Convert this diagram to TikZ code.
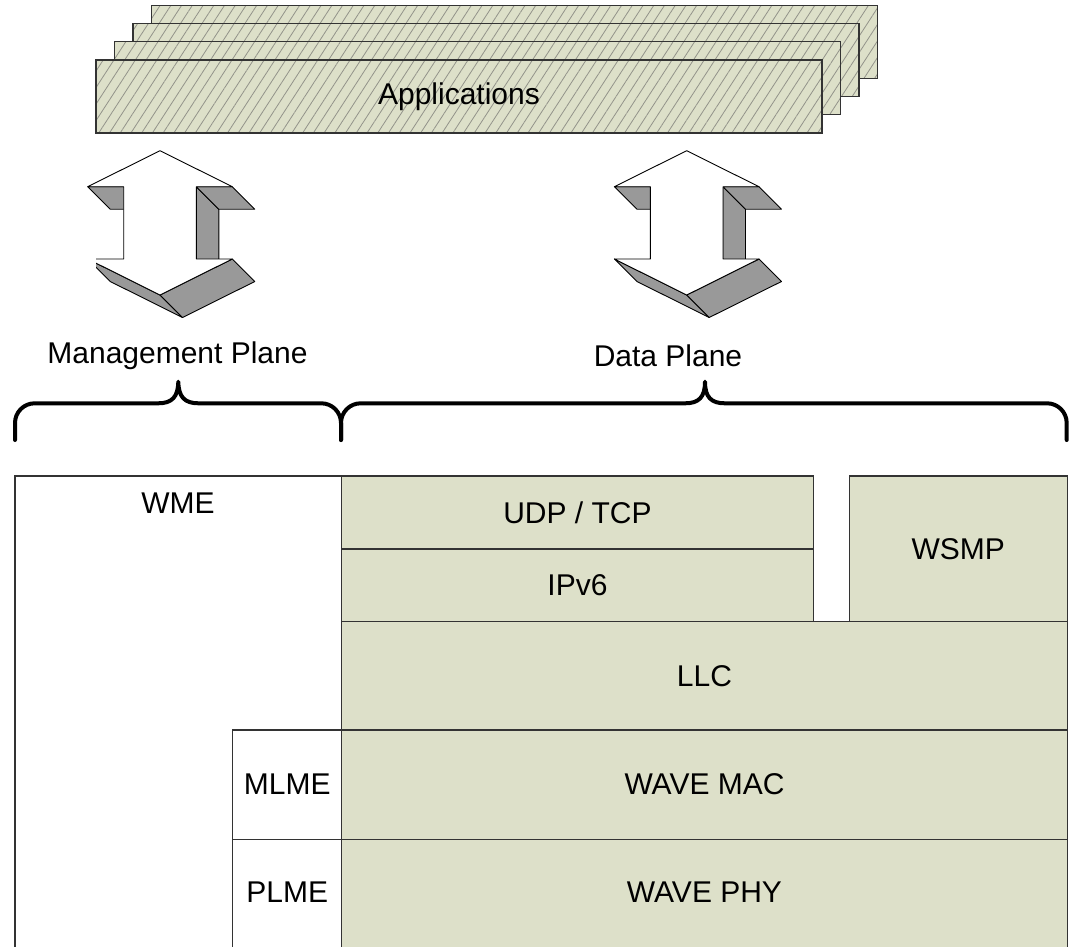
\documentclass[tikz,border=0pt]{standalone}
\usepackage{fontspec}
\setmainfont{Liberation Sans}
\usetikzlibrary{patterns.meta}

\definecolor{layerfill}{HTML}{DDE0C9}
\definecolor{edgegray}{HTML}{333333}
\definecolor{sidegray}{HTML}{999999}
\definecolor{hatchgray}{HTML}{93938A}

\tikzset{
  txt/.style={font=\fontsize{30}{36}\selectfont, inner sep=0pt},
  layer/.style={draw=edgegray, line width=1.1pt, fill=layerfill},
  mgmt/.style={draw=edgegray, line width=1.1pt, fill=white},
  appbox/.style={draw=edgegray, line width=1.1pt,
    preaction={fill=layerfill},
    pattern={Lines[angle=57, distance=9pt, line width=0.8pt]},
    pattern color=hatchgray},
  brace/.style={line width=4pt, line cap=round, line join=round},
  side/.style={draw=black, line width=0.9pt, fill=sidegray, line join=round},
  front/.style={draw=black, line width=0.9pt, fill=white, line join=round},
  % extruded double-headed arrow, anchored at its upper tip
  dblarrow/.pic={
    \filldraw[side] (36.3,36) -- (36.3,108.3) -- (58.8,130.8) -- (58.8,58.5) -- cycle;
    \filldraw[side] (-72.3,36) -- (-36.3,36) -- (-13.8,58.5) -- (-49.8,58.5) -- cycle;
    \filldraw[side] (36.3,36) -- (72.3,36) -- (94.8,58.5) -- (58.8,58.5) -- cycle;
    \filldraw[side] (-72.3,108.3) -- (0,144.3) -- (22.5,166.8) -- (-49.8,130.8) -- cycle;
    \filldraw[side] (0,144.3) -- (72.3,108.3) -- (94.8,130.8) -- (22.5,166.8) -- cycle;
    \filldraw[front] (0,0) -- (72.3,36) -- (36.3,36) -- (36.3,108.3) -- (72.3,108.3)
      -- (0,144.3) -- (-72.3,108.3) -- (-36.3,108.3) -- (-36.3,36) -- (-72.3,36) -- cycle;
  }
}

\begin{document}
\begin{tikzpicture}[x=1pt, y=-1pt]
\useasboundingbox (0,0) rectangle (1074,946);
\clip (0,0) rectangle (1074,946);

% stacked application windows, back to front
\foreach \k in {3,2,1,0} {
  \path[appbox] (96+18.5*\k, 60-18.3*\k) rectangle (822+18.5*\k, 133-18.3*\k);
}
\node[txt] (apps) at (459,97) {Applications};

% management and data plane arrows
\pic at (160,150.7) {dblarrow};
\fill[white] (80,258.2) rectangle (95.8,300);
\pic at (686.7,150.7) {dblarrow};

\node[txt] (mplane) at (177.5,356) {Management Plane};
\node[txt] (dplane) at (668,356) {Data Plane};

% braces (y axis points down, so the arc angles are mirrored)
\draw[brace] (15,440) -- (15,423) arc[start angle=180, end angle=270, radius=19.7]
  -- (158,403.3) .. controls (172,403.3) and (178,397) .. (178.3,381.7)
  .. controls (178.6,397) and (184.6,403.3) .. (198.6,403.3)
  -- (321.3,403.3) arc[start angle=-90, end angle=0, radius=19.7] -- (341,440);
\draw[brace] (341,440) -- (341,423) arc[start angle=180, end angle=270, radius=19.7]
  -- (685,403.3) .. controls (699,403.3) and (705,397) .. (705,381.7)
  .. controls (705,397) and (711,403.3) .. (725,403.3)
  -- (1047,403.3) arc[start angle=-90, end angle=0, radius=19.7] -- (1066.7,440);

% management entity column
\path[mgmt] (15,476) rectangle (341.7,960);
\path[mgmt] (232.7,730) rectangle (341.7,839.3);
\path[mgmt] (232.7,839.3) rectangle (341.7,960);
\node[txt] (wme) at (178,502.7) {WME};
\node[txt] (mlme) at (287.2,784.6) {MLME};
\node[txt] (plme) at (287.2,892.6) {PLME};

% data plane layers
\path[layer] (341.7,476) rectangle (813.3,549);
\path[layer] (341.7,549) rectangle (813.3,621.7);
\path[layer] (849.3,476) rectangle (1067.3,621.7);
\path[layer] (341.7,621.7) rectangle (1067.3,730);
\path[layer] (341.7,730) rectangle (1067.3,839.3);
\path[layer] (341.7,839.3) rectangle (1067.3,960);
\node[txt] (udp) at (577.5,512.5) {UDP / TCP};
\node[txt] (ipv6) at (577.5,585.3) {IPv6};
\node[txt] (wsmp) at (958.3,548.8) {WSMP};
\node[txt] (llc) at (704.5,675.8) {LLC};
\node[txt] (mac) at (704.5,784.6) {WAVE MAC};
\node[txt] (phy) at (704.5,892.6) {WAVE PHY};
\end{tikzpicture}
\end{document}
